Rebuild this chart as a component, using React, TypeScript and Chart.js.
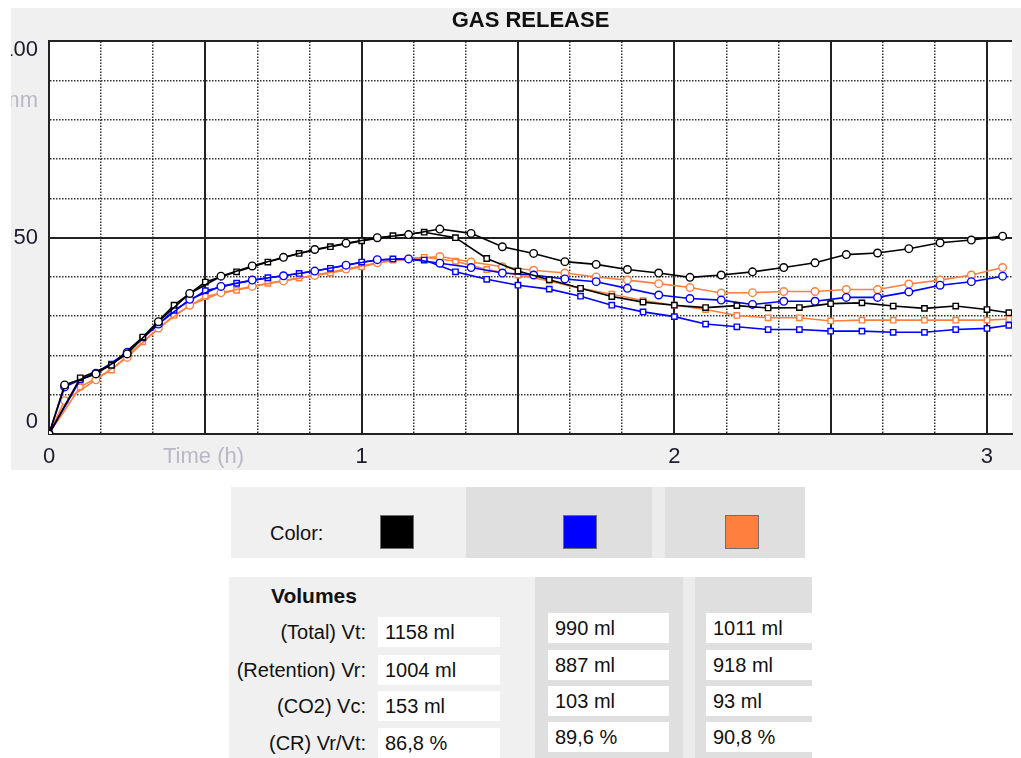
import React, { useEffect, useRef } from 'react';
import { Chart, registerables } from 'chart.js';

Chart.register(...registerables);

// ---------- data ----------
const TITLE = 'GAS RELEASE';
const Y_AXIS_TITLE = 'mm';
const X_AXIS_TITLE = 'Time (h)';

// sampling times (hours) of the two curve families
const T_UPPER = [0, 0.05, 0.15, 0.25, 0.35, 0.45, 0.55, 0.65, 0.75, 0.85, 0.95, 1.05, 1.15, 1.25, 1.35, 1.45, 1.55, 1.65, 1.75, 1.85, 1.95, 2.05, 2.15, 2.25, 2.35, 2.45, 2.55, 2.65, 2.75, 2.85, 2.95, 3.05];
const T_LOWER = [0, 0.1, 0.2, 0.3, 0.4, 0.5, 0.6, 0.7, 0.8, 0.9, 1.0, 1.1, 1.2, 1.3, 1.4, 1.5, 1.6, 1.7, 1.8, 1.9, 2.0, 2.1, 2.2, 2.3, 2.4, 2.5, 2.6, 2.7, 2.8, 2.9, 3.0, 3.07];

const BLACK_UPPER = [0, 12.5, 15.3, 20.4, 28.6, 35.8, 40.2, 42.8, 45.0, 47.0, 48.6, 50.0, 50.8, 52.2, 51.1, 47.7, 46.0, 43.9, 43.2, 41.9, 41.0, 39.9, 40.5, 41.3, 42.4, 43.6, 45.7, 46.1, 47.2, 48.7, 49.4, 50.4];
const BLACK_LOWER = [0, 14.3, 17.5, 24.7, 32.8, 38.7, 41.3, 43.8, 46.0, 47.7, 49.2, 50.5, 51.4, 50.0, 44.7, 41.5, 39.3, 37.1, 35.0, 33.6, 32.8, 32.2, 32.7, 32.1, 32.2, 33.2, 33.4, 32.6, 32.0, 32.6, 31.7, 30.9];
const BLUE_UPPER = [0, 12.0, 15.5, 20.8, 28.0, 34.3, 37.6, 39.2, 40.3, 41.5, 43.0, 44.4, 44.6, 43.5, 42.4, 41.0, 40.5, 39.5, 38.8, 37.1, 35.4, 34.5, 34.1, 33.0, 33.8, 33.8, 34.8, 34.8, 36.2, 37.9, 38.8, 40.2];
const BLUE_LOWER = [0, 13.8, 17.8, 24.5, 31.5, 36.5, 38.4, 39.8, 40.9, 42.2, 43.8, 44.6, 44.3, 41.3, 39.4, 37.9, 36.9, 35.1, 32.8, 31.1, 29.9, 28.0, 27.3, 26.6, 26.6, 26.2, 26.2, 25.9, 25.9, 26.6, 26.9, 27.7];
const ORANGE_UPPER = [0, 8.5, 13.8, 19.5, 27.0, 32.8, 36.0, 37.6, 39.0, 40.4, 42.0, 43.6, 44.6, 45.2, 43.8, 42.6, 41.7, 41.0, 40.0, 39.2, 38.3, 37.3, 35.9, 36.0, 36.3, 36.3, 36.8, 36.8, 38.2, 39.2, 40.5, 42.4];
const ORANGE_LOWER = [0, 12.0, 16.3, 23.5, 30.2, 35.0, 36.6, 38.4, 39.7, 41.0, 42.6, 44.3, 45.0, 44.0, 41.9, 40.5, 39.0, 37.1, 35.6, 34.0, 32.8, 31.7, 30.2, 29.6, 29.6, 28.8, 29.0, 29.0, 29.0, 29.0, 29.0, 29.3];

const X_MIN = 0;
const X_MAX = 3.08;
const X_GRID_STEP = 1 / 6; // 10 min
const X_MAJOR_STEP = 0.5;
const X_TICK_LABELS = [0, 1, 2, 3];
const Y_MIN = 0;
const Y_MAX = 100;
const Y_GRID_STEP = 10;
const Y_TICK_LABELS = [0, 50, 100];

const SERIES_COLORS = ['#000000', '#0000ff', '#ff7f3f'];

const VOLUME_LABELS = ['(Total) Vt:', '(Retention) Vr:', '(CO2) Vc:', '(CR) Vr/Vt:'];
const VOLUMES_BLACK = ['1158 ml', '1004 ml', '153 ml', '86,8 %'];
const VOLUMES_BLUE = ['990 ml', '887 ml', '103 ml', '89,6 %'];
const VOLUMES_ORANGE = ['1011 ml', '918 ml', '93 ml', '90,8 %'];

// ---------- helpers ----------
const FONT = "'Liberation Sans', Arial, sans-serif";
const pts = (ts: number[], vs: number[]) => vs.map((v, i) => ({ x: ts[i], y: v }));
const near = (a: number, b: number) => Math.abs(a - b) < 1e-6;

const plotBackground = {
  id: 'plotBackground',
  beforeDraw(chart: any) {
    const { ctx, chartArea } = chart;
    if (!chartArea) return;
    ctx.save();
    ctx.fillStyle = '#ffffff';
    ctx.fillRect(chartArea.left, chartArea.top, chartArea.right - chartArea.left, chartArea.bottom - chartArea.top);
    ctx.restore();
  },
};

function ChartPanel() {
  const ref = useRef<HTMLCanvasElement | null>(null);
  useEffect(() => {
    if (!ref.current) return;
    const mk = (label: string, ts: number[], vs: number[], color: string, style: string) => ({
      label,
      data: pts(ts, vs),
      borderColor: color,
      backgroundColor: color,
      borderWidth: 1.6,
      pointStyle: style,
      pointRadius: 3.8,
      pointBorderWidth: 1.4,
      pointBorderColor: color,
      pointBackgroundColor: '#ffffff',
      tension: 0,
      fill: false,
    });
    const xGrid: number[] = [];
    for (let k = 0; k * X_GRID_STEP <= X_MAX + 1e-9; k++) xGrid.push(k * X_GRID_STEP);

    const isXMajor = (v: number) => near(v / X_MAJOR_STEP, Math.round(v / X_MAJOR_STEP));
    const isYMajor = (v: number) => near(v % 50, 0);

    const chart = new Chart(ref.current, {
      type: 'line',
      data: {
        datasets: [
          mk('Black total', T_UPPER, BLACK_UPPER, SERIES_COLORS[0], 'circle'),
          mk('Black retention', T_LOWER, BLACK_LOWER, SERIES_COLORS[0], 'rect'),
          mk('Blue total', T_UPPER, BLUE_UPPER, SERIES_COLORS[1], 'circle'),
          mk('Blue retention', T_LOWER, BLUE_LOWER, SERIES_COLORS[1], 'rect'),
          mk('Orange total', T_UPPER, ORANGE_UPPER, SERIES_COLORS[2], 'circle'),
          mk('Orange retention', T_LOWER, ORANGE_LOWER, SERIES_COLORS[2], 'rect'),
        ] as any,
      },
      plugins: [plotBackground],
      options: {
        animation: false,
        responsive: false,
        maintainAspectRatio: false,
        layout: { padding: { left: 0, right: 9, top: 0, bottom: 0 } },
        plugins: {
          legend: { display: false },
          tooltip: { enabled: false },
          title: {
            display: true,
            text: TITLE,
            fullSize: false,
            color: '#111111',
            font: { family: FONT, size: 22, weight: 'bold' },
            padding: { top: 0, bottom: 7 },
          },
        },
        scales: {
          x: {
            type: 'linear',
            min: X_MIN,
            max: X_MAX,
            afterBuildTicks: (s: any) => {
              s.ticks = xGrid.map((v) => ({ value: v }));
            },
            afterFit: (s: any) => {
              s.height = 36;
            },
            ticks: {
              autoSkip: false,
              maxRotation: 0,
              padding: 10,
              color: '#1c1c2c',
              font: { family: FONT, size: 22 },
              callback: (v: any) => {
                const n = Number(v);
                const hit = X_TICK_LABELS.find((l) => near(l, n));
                return hit === undefined ? '' : String(hit);
              },
            },
            grid: {
              drawTicks: false,
              color: (c: any) => (c.tick && isXMajor(c.tick.value) ? '#222222' : '#333333'),
              lineWidth: (c: any) => (c.tick && isXMajor(c.tick.value) ? 2 : 1.5),
            },
            border: {
              display: true,
              color: '#222222',
              width: 2,
              dash: (c: any) => (c.tick && !isXMajor(c.tick.value) ? [1.5, 1.5] : []),
            },
          },
          y: {
            type: 'linear',
            min: Y_MIN,
            max: Y_MAX,
            afterFit: (s: any) => {
              s.width = 38;
            },
            ticks: {
              stepSize: Y_GRID_STEP,
              autoSkip: false,
              padding: 11,
              color: '#1c1c2c',
              font: (c: any) => {
                const v = c.tick ? c.tick.value : 50;
                // keep edge labels inside the plot's vertical span
                const lh = v === Y_MIN ? 24 : v === Y_MAX ? 18 : 26;
                return { family: FONT, size: 22, lineHeight: `${lh}px` };
              },
              callback: (v: any) => {
                const n = Number(v);
                const hit = Y_TICK_LABELS.find((l) => near(l, n));
                if (hit === undefined) return '';
                if (hit === Y_MIN) return [String(hit), ''];
                if (hit === Y_MAX) return ['', String(hit)];
                return String(hit);
              },
            },
            grid: {
              drawTicks: false,
              color: (c: any) => (c.tick && isYMajor(c.tick.value) ? '#222222' : '#333333'),
              lineWidth: (c: any) => (c.tick && isYMajor(c.tick.value) ? 2 : 1.5),
            },
            border: {
              display: true,
              color: '#222222',
              width: 2,
              dash: (c: any) => (c.tick && !isYMajor(c.tick.value) ? [1.5, 1.5] : []),
            },
          },
        },
      } as any,
    });
    return () => chart.destroy();
  }, []);

  return (
    <div
      style={{
        position: 'absolute',
        left: 11,
        top: 8,
        width: 1010,
        height: 462,
        background: '#f0f0f0',
        overflow: 'hidden',
      }}
    >
      <canvas ref={ref} width={1010} height={462} style={{ position: 'absolute', left: 0, top: 0, width: 1010, height: 462 }} />
      <span
        style={{
          position: 'absolute',
          left: -20,
          width: 47,
          top: 80,
          textAlign: 'right',
          font: `22px ${FONT}`,
          lineHeight: '24px',
          color: '#b9b9c6',
        }}
      >
        {Y_AXIS_TITLE}
      </span>
      <span
        style={{
          position: 'absolute',
          left: 152,
          top: 436,
          font: `22px ${FONT}`,
          lineHeight: '24px',
          color: '#b9b9c6',
          whiteSpace: 'nowrap',
        }}
      >
        {X_AXIS_TITLE}
      </span>
    </div>
  );
}

const box = (left: number, top: number, width: number, text: string) => (
  <div
    key={`${left}-${top}`}
    style={{
      position: 'absolute',
      left,
      top,
      width,
      height: 30,
      background: '#ffffff',
      font: `20px ${FONT}`,
      lineHeight: '30px',
      paddingLeft: 7,
      boxSizing: 'border-box',
      color: '#111',
      whiteSpace: 'nowrap',
      overflow: 'hidden',
    }}
  >
    {text}
  </div>
);

export default function App() {
  const rowTops1 = [617, 655, 691, 728];
  const rowTops2 = [613, 650, 686, 722];
  const labelCenters = [632, 670, 706, 743];
  return (
    <div
      style={{
        position: 'absolute',
        left: 0,
        top: 0,
        width: 1021,
        height: 758,
        background: '#ffffff',
        overflow: 'hidden',
        fontFamily: FONT,
      }}
    >
      <ChartPanel />

      {/* Color row */}
      <div style={{ position: 'absolute', left: 231, top: 487, width: 235, height: 71, background: '#f0f0f0' }} />
      <div style={{ position: 'absolute', left: 466, top: 487, width: 186, height: 71, background: '#dfdfdf' }} />
      <div style={{ position: 'absolute', left: 652, top: 487, width: 13, height: 71, background: '#ececec' }} />
      <div style={{ position: 'absolute', left: 665, top: 487, width: 140, height: 71, background: '#dfdfdf' }} />
      <div style={{ position: 'absolute', left: 270, top: 521, font: `20px ${FONT}`, lineHeight: '24px', color: '#111' }}>Color:</div>
      {[380, 563, 725].map((x, i) => (
        <div
          key={x}
          style={{
            position: 'absolute',
            left: x,
            top: 515,
            width: 34,
            height: 34,
            boxSizing: 'border-box',
            border: '1px solid #6e6e6e',
            background: SERIES_COLORS[i],
          }}
        />
      ))}

      {/* Volumes */}
      <div style={{ position: 'absolute', left: 229, top: 577, width: 306, height: 181, background: '#f0f0f0' }} />
      <div style={{ position: 'absolute', left: 535, top: 577, width: 148, height: 181, background: '#dfdfdf' }} />
      <div style={{ position: 'absolute', left: 683, top: 577, width: 12, height: 181, background: '#ececec' }} />
      <div style={{ position: 'absolute', left: 695, top: 577, width: 117, height: 181, background: '#dfdfdf' }} />
      <div style={{ position: 'absolute', left: 271, top: 584, font: `bold 21px ${FONT}`, lineHeight: '24px', color: '#111' }}>Volumes</div>
      {VOLUME_LABELS.map((l, i) => (
        <div
          key={l}
          style={{
            position: 'absolute',
            left: 200,
            width: 166,
            top: labelCenters[i] - 12,
            textAlign: 'right',
            font: `20px ${FONT}`,
            lineHeight: '24px',
            color: '#111',
            whiteSpace: 'nowrap',
          }}
        >
          {l}
        </div>
      ))}
      {VOLUMES_BLACK.map((v, i) => box(378, rowTops1[i], 122, v))}
      {VOLUMES_BLUE.map((v, i) => box(548, rowTops2[i], 121, v))}
      {VOLUMES_ORANGE.map((v, i) => box(706, rowTops2[i], 106, v))}
    </div>
  );
}
